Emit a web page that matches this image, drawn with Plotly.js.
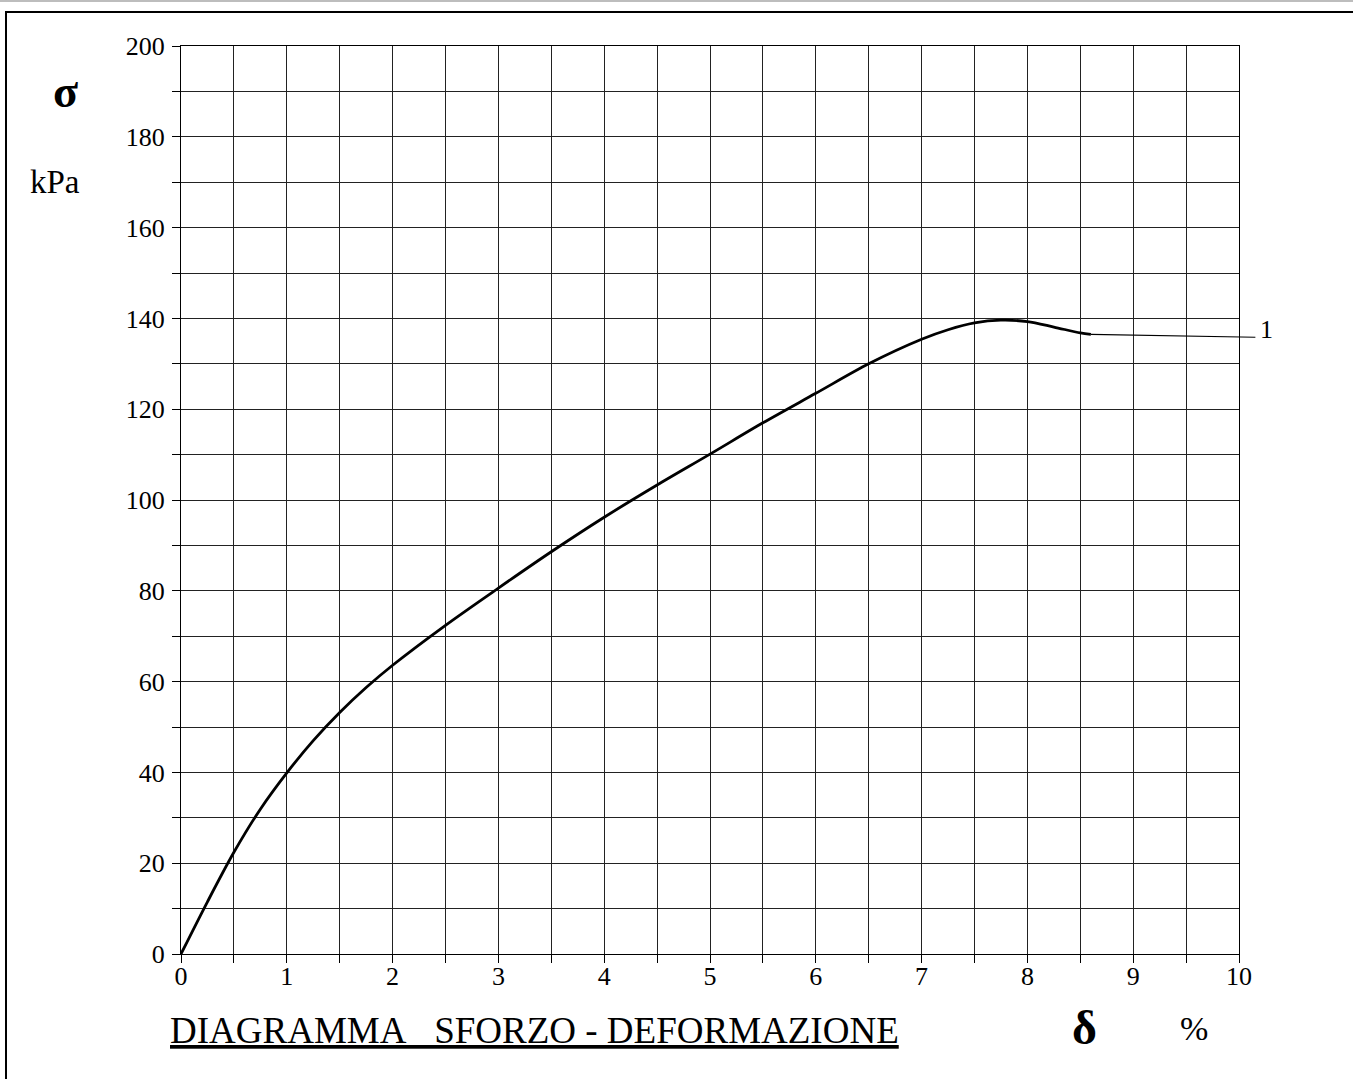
<!DOCTYPE html>
<html>
<head>
<meta charset="utf-8">
<script src="https://cdn.plot.ly/plotly-3.0.1.min.js"></script>
<style>
  html, body { margin: 0; padding: 0; background: #fff; }
  #wrap { position: relative; width: 1353px; height: 1079px; overflow: hidden; }
  #chart { position: absolute; left: 0; top: 0; width: 1353px; height: 1079px; }
  #topbar { position: absolute; left: 0; top: 0; width: 1353px; height: 2px; background: #bdbdbd; }
  #frame { position: absolute; left: 5px; top: 11px; width: 1400px; height: 1200px;
           border-left: 2px solid #000; border-top: 2px solid #000; pointer-events: none; }
</style>
</head>
<body>
<div id="wrap">
  <div id="chart"></div>
  <div id="topbar"></div>
  <div id="frame"></div>
</div>
<script>
// Strain (delta, %) and stress (sigma, kPa)
const strain = [0, 0.25, 0.5, 0.75, 1.0, 1.25, 1.5, 1.75, 2.0, 2.5, 3.0,
                3.5, 4.0, 4.5, 5.0, 5.5, 6.0, 6.5, 7.0, 7.25, 7.5, 7.75,
                8.0, 8.25, 8.5, 8.6];
const stress = [0, 11.5, 22.4, 31.9, 39.9, 47.0, 53.2, 58.7, 63.6, 72.4, 80.6,
                88.6, 96.2, 103.3, 110.1, 117.0, 123.5, 130.0, 135.4, 137.5, 139.0, 139.6,
                139.3, 138.1, 136.8, 136.5];
const curveLabel = '1';

const xTickVals = [0,0.5,1,1.5,2,2.5,3,3.5,4,4.5,5,5.5,6,6.5,7,7.5,8,8.5,9,9.5,10];
const xTickText = ['0','','1','','2','','3','','4','','5','','6','','7','','8','','9','','10'];
const yTickVals = [0,10,20,30,40,50,60,70,80,90,100,110,120,130,140,150,160,170,180,190,200];
const yTickText = ['0','','20','','40','','60','','80','','100','','120','','140','','160','','180','','200'];

const titleText = 'DIAGRAMMA\u00a0\u00a0\u00a0SFORZO - DEFORMAZIONE';
const yName = '\u03c3';
const yUnit = 'kPa';
const xName = '\u03b4';
const xUnit = '%';

const serif = 'Liberation Serif, Times New Roman, serif';

const trace = {
  x: strain, y: stress, type: 'scatter', mode: 'lines',
  line: { color: '#000', width: 2.8, shape: 'spline', smoothing: 0.9 },
  hoverinfo: 'skip', showlegend: false
};

const axisCommon = {
  showgrid: true, gridcolor: '#222', gridwidth: 1,
  showline: true, linecolor: '#000', linewidth: 1, mirror: true,
  ticks: 'outside', ticklen: 8, tickwidth: 1, tickcolor: '#000',
  zeroline: false, fixedrange: true,
  tickfont: { family: serif, size: 26, color: '#000' },
  tickmode: 'array'
};

const lastX = strain[strain.length - 1];
const lastY = stress[stress.length - 1];

const layout = {
  width: 1353, height: 1079,
  margin: { l: 181, r: 114, t: 46, b: 125 },
  paper_bgcolor: 'rgba(0,0,0,0)', plot_bgcolor: '#fff',
  xaxis: Object.assign({}, axisCommon, {
    range: [0, 10], tickvals: xTickVals, ticktext: xTickText, ticklabelstandoff: -9
  }),
  yaxis: Object.assign({}, axisCommon, {
    range: [0, 200], tickvals: yTickVals, ticktext: yTickText, ticklabelstandoff: 2
  }),
  annotations: [
    // leader line from end of curve
    { x: lastX, y: lastY, xref: 'x', yref: 'y',
      text: ' ', showarrow: true, arrowhead: 0, arrowwidth: 1.2, arrowcolor: '#000',
      ax: 167, ay: 3, standoff: 0, font: { family: serif, size: 8, color: '#000' } },
    // curve number
    { x: lastX, y: lastY, xref: 'x', yref: 'y', text: curveLabel, showarrow: false,
      xshift: 176, yshift: 5, xanchor: 'center', yanchor: 'middle',
      font: { family: serif, size: 26, color: '#000' } },
    { x: -0.1087, y: 0.9504, xref: 'paper', yref: 'paper', text: '<b>' + yName + '</b>',
      showarrow: false, xanchor: 'center', yanchor: 'middle',
      font: { family: serif, size: 46, color: '#000' } },
    { x: -0.1191, y: 0.8502, xref: 'paper', yref: 'paper', text: yUnit,
      showarrow: false, xanchor: 'center', yanchor: 'middle',
      font: { family: serif, size: 33, color: '#000' } },
    { x: -0.0123, y: -0.0848, xref: 'paper', yref: 'paper', text: '<u>' + titleText + '</u>',
      showarrow: false, xanchor: 'left', yanchor: 'middle',
      font: { family: serif, size: 37, color: '#000' } },
    { x: 0.8544, y: -0.0804, xref: 'paper', yref: 'paper', text: '<b>' + xName + '</b>',
      showarrow: false, xanchor: 'center', yanchor: 'middle',
      font: { family: serif, size: 48, color: '#000' } },
    { x: 0.9575, y: -0.0815, xref: 'paper', yref: 'paper', text: xUnit,
      showarrow: false, xanchor: 'center', yanchor: 'middle',
      font: { family: serif, size: 34, color: '#000' } }
  ]
};

Plotly.newPlot('chart', [trace], layout, { displayModeBar: false, staticPlot: true });
</script>
</body>
</html>
